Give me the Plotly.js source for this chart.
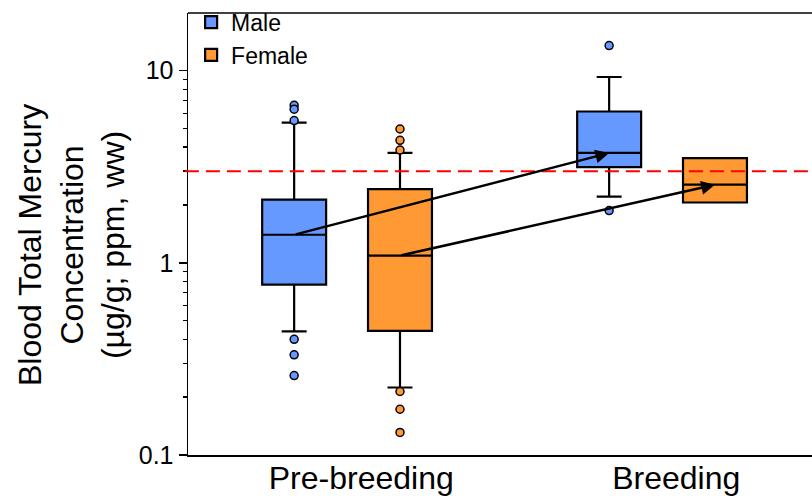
<!DOCTYPE html>
<html>
<head>
<meta charset="utf-8">
<script src="https://cdn.plot.ly/plotly-3.0.1.min.js"></script>
<style>html,body{margin:0;padding:0;background:#fff;}#chart{width:812px;height:496px;}</style>
</head>
<body>
<div id="chart"></div>
<script>
// ---- data ----
const categories = ['Pre-breeding', 'Breeding'];

const maleQ1     = [0.77, 3.15];
const maleMedian = [1.40, 3.73];
const maleQ3     = [2.13, 6.13];
const maleLower  = [0.44, 2.21];
const maleUpper  = [5.36, 9.27];
const maleOutliersPre      = [6.6, 6.3, 5.5, 0.40, 0.332, 0.259];
const maleOutliersBreeding = [13.5, 1.87];

const femaleQ1     = [0.443, 2.06];
const femaleMedian = [1.09, 2.55];
const femaleQ3     = [2.42, 3.51];
const femaleLower  = [0.2245, 2.06];
const femaleUpper  = [3.73, 3.51];
const femaleOutliersPre      = [4.97, 4.34, 3.86, 0.214, 0.173, 0.131];
const femaleOutliersBreeding = [];

const thresholdValue = 3.0;

// ---- layout helpers ----
const FONT = 'Liberation Sans, Arial, Helvetica, sans-serif';
const maleColor = '#6699ff';
const femaleColor = '#ff9933';
const OFFSET = 0.168;
const BOXW = 0.203;

const idx = categories.map((c, i) => i);
const malePos = idx.map(i => i - OFFSET);
const femalePos = idx.map(i => i + OFFSET);

function boxTrace(name, pos, q1, med, q3, lo, hi, color) {
  return {
    type: 'box', name: name, x: pos,
    q1: q1, median: med, q3: q3, lowerfence: lo, upperfence: hi,
    width: BOXW, whiskerwidth: 0.39,
    fillcolor: color, line: {color: '#000', width: 2.2},
    boxpoints: false, hoverinfo: 'skip'
  };
}
function outlierTrace(xs, ys, color) {
  return {
    type: 'scatter', mode: 'markers', x: xs, y: ys, showlegend: false,
    marker: {size: 8, color: color, line: {color: '#000', width: 1.5}},
    hoverinfo: 'skip'
  };
}
const maleOutX = maleOutliersPre.map(() => malePos[0]).concat(maleOutliersBreeding.map(() => malePos[1]));
const maleOutY = maleOutliersPre.concat(maleOutliersBreeding);
const femaleOutX = femaleOutliersPre.map(() => femalePos[0]).concat(femaleOutliersBreeding.map(() => femalePos[1]));
const femaleOutY = femaleOutliersPre.concat(femaleOutliersBreeding);

const data = [
  boxTrace('Male', malePos, maleQ1, maleMedian, maleQ3, maleLower, maleUpper, maleColor),
  boxTrace('Female', femalePos, femaleQ1, femaleMedian, femaleQ3, femaleLower, femaleUpper, femaleColor),
  outlierTrace(maleOutX, maleOutY, maleColor),
  outlierTrace(femaleOutX, femaleOutY, femaleColor)
];

function arrow(x0, y0, x1, y1) {
  return {
    xref: 'x', yref: 'y', axref: 'x', ayref: 'y',
    x: x1, y: Math.log10(y1), ax: x0, ay: Math.log10(y0),
    showarrow: true, arrowhead: 2, arrowsize: 1.1, arrowwidth: 2.5,
    arrowcolor: '#000', standoff: 0, startstandoff: 0, text: ''
  };
}

const layout = {
  width: 812, height: 496,
  margin: {l: 188, r: 0, t: 13, b: 41},
  paper_bgcolor: '#fff', plot_bgcolor: '#fff',
  font: {family: FONT, color: '#000'},
  showlegend: true,
  legend: {x: 0.005, y: 1.028, xanchor: 'left', yanchor: 'top', bgcolor: 'rgba(0,0,0,0)',
           font: {size: 23, family: FONT}},
  xaxis: {
    type: 'linear', range: [-0.505, 1.476],
    tickmode: 'array', tickvals: idx.map(i => i + 0.045), ticktext: categories,
    ticks: '', showgrid: false, zeroline: false,
    showline: true, linecolor: '#000', linewidth: 1.5,
    ticklabelstandoff: -6,
    tickfont: {size: 32, family: FONT}
  },
  yaxis: {
    type: 'log', range: [-1, 1.3],
    dtick: 1, ticks: 'outside', ticklen: 8, tickwidth: 1.5, tickcolor: '#000',
    minor: {ticks: 'outside', ticklen: 4, tickwidth: 1.5, tickcolor: '#000', dtick: 'D1', showgrid: false},
    showgrid: false, zeroline: false,
    showline: true, linecolor: '#000', linewidth: 1.5,
    tickfont: {size: 25, family: FONT}
  },
  shapes: [
    {type: 'line', xref: 'paper', yref: 'y', x0: -0.005, x1: 1, y0: thresholdValue, y1: thresholdValue,
     line: {color: '#ff0000', width: 2, dash: '14px,7px'}, layer: 'above'},
    {type: 'line', xref: 'paper', yref: 'paper', x0: 0, x1: 1, y0: 1, y1: 1,
     line: {color: '#000', width: 1.5}, layer: 'above'}
  ],
  annotations: [
    arrow(malePos[0], maleMedian[0], malePos[1], maleMedian[1]),
    arrow(femalePos[0], femaleMedian[0], femalePos[1], femaleMedian[1]),
    {xref: 'paper', yref: 'paper', x: 0, y: 0.475, xshift: -117, xanchor: 'center', yanchor: 'middle',
     textangle: -90, showarrow: false,
     text: 'Blood Total Mercury<br>Concentration<br>(µg/g; ppm, ww)',
     font: {size: 32, family: FONT}}
  ]
};

Plotly.newPlot('chart', data, layout, {displayModeBar: false, staticPlot: true});
</script>
</body>
</html>
